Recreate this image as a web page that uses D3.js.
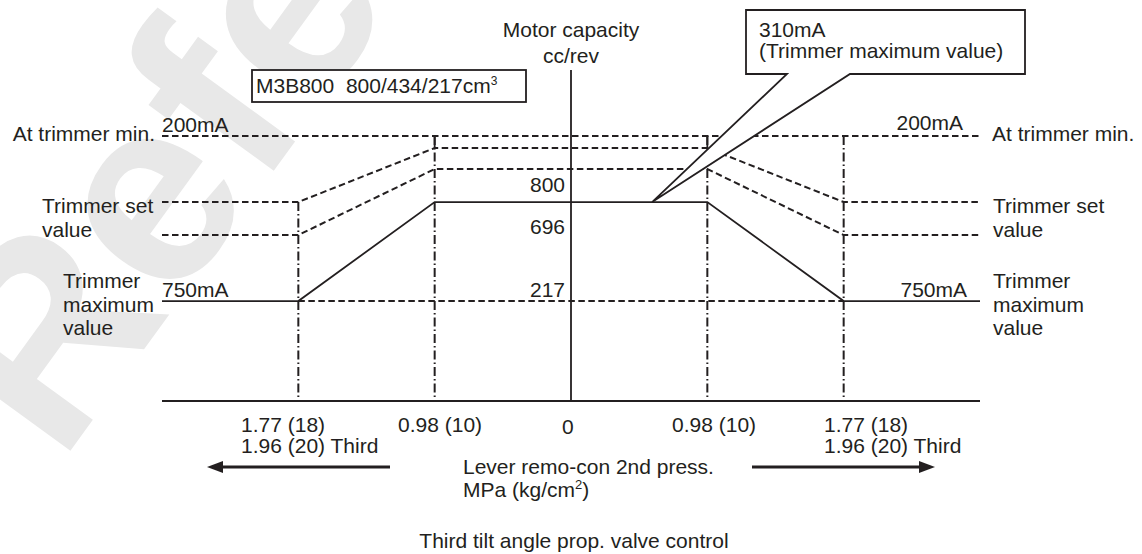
<!DOCTYPE html>
<html>
<head>
<meta charset="utf-8">
<script src="https://cdn.jsdelivr.net/npm/d3@7"></script>
<style>
  html, body { margin: 0; padding: 0; background: #fff; }
  svg text { font-family: "Liberation Sans", Arial, sans-serif; font-size: 21px; fill: #231f20; white-space: pre; }
</style>
</head>
<body>
<div id="vis"></div>
<script>
/* Third tilt angle proportional valve control - current vs lever remo-con pressure */

// lever steps along the horizontal axis (left side is mirrored)
var steps = [-3, -2, -1, 0, 1, 2, 3];
var stepLabels = ['1.77 (18)|1.96 (20) Third', '0.98 (10)', '0', '0.98 (10)', '1.77 (18)|1.96 (20) Third'];
var stepLabelAt = [-2, -1, 0, 1, 2];

// current levels (mA) of each curve at the steps -3 .. 3
var atTrimmerMin = [200, 200, 200, 200, 200, 200, 200];
var trimmerSetHigh = [420, 420, 240, 240, 240, 420, 420];
var trimmerSetLow = [530, 530, 310, 310, 310, 530, 530];
var trimmerMax = [750, 750, 420, 420, 420, 750, 750];

// motor capacity labels on the centre axis
var capacityLabels = ['800', '696', '217'];
var capacityLevels = [420, 530, 750];

// where each dash-dot guide starts (mA) at steps -2, -1, 1, 2
var guideSteps = [-2, -1, 1, 2];
var guideTop = [420, 200, 200, 200];

var width = 1142;
var height = 554;

var svg = d3.select('#vis')
    .append('svg')
    .attr('width', width)
    .attr('height', height);

// Scales
var xScale = d3.scaleLinear()
    .domain([-3, 3])
    .range([162, 980]);

var yScale = d3.scaleLinear()
    .domain([0, 1083])
    .range([76, 401]);

var ink = '#231f20';

/************ watermark ************/
svg.append('text')
    .attr('transform', 'translate(60,465) rotate(-54)')
    .style('font-size', '265px')
    .style('font-weight', 'bold')
    .style('fill', '#e8e8e8')
    .text('Reference');

/************ axes ************/
// horizontal baseline
svg.append('line')
    .attr('x1', xScale(-3)).attr('x2', xScale(3))
    .attr('y1', yScale(1083)).attr('y2', yScale(1083))
    .attr('stroke', ink).attr('stroke-width', 1.8);

// motor capacity axis
svg.append('line')
    .attr('x1', xScale(0)).attr('x2', xScale(0))
    .attr('y1', 70).attr('y2', yScale(1083))
    .attr('stroke', ink).attr('stroke-width', 1.8);

// dash-dot guides
guideSteps.forEach(function(s, i) {
    svg.append('line')
        .attr('x1', xScale(s)).attr('x2', xScale(s))
        .attr('y1', yScale(guideTop[i])).attr('y2', yScale(1083))
        .attr('stroke', ink).attr('stroke-width', 2)
        .attr('stroke-dasharray', '9,3,1.5,3');
});

/************ curves ************/
var line = d3.line()
    .x(function(d) { return xScale(d[0]); })
    .y(function(d) { return yScale(d[1]); });

function curve(values) {
    return steps.map(function(s, i) { return [s, values[i]]; });
}

svg.append('path')
    .attr('d', line(curve(atTrimmerMin)))
    .attr('fill', 'none').attr('stroke', ink).attr('stroke-width', 2)
    .attr('stroke-dasharray', '6.5,3.5');

// trimmer set value curves (dashed)
[trimmerSetHigh, trimmerSetLow].forEach(function(v) {
    svg.append('path')
        .attr('d', line(curve(v).filter(function(d) { return d[0] !== 0; })))
        .attr('fill', 'none').attr('stroke', ink).attr('stroke-width', 2)
        .attr('stroke-dasharray', '6.5,3.5');
});

// dashed 750mA line between the outer guides
svg.append('path')
    .attr('d', line([[-2, 750], [2, 750]]))
    .attr('fill', 'none').attr('stroke', ink).attr('stroke-width', 2)
    .attr('stroke-dasharray', '6.5,3.5');

// trimmer maximum (solid)
svg.append('path')
    .attr('d', line(curve(trimmerMax)))
    .attr('fill', 'none').attr('stroke', ink).attr('stroke-width', 1.8);

// small corner ticks at the tops of the inner guides
[-1, 1].forEach(function(s) {
    svg.append('line')
        .attr('x1', xScale(s)).attr('x2', xScale(s))
        .attr('y1', yScale(200)).attr('y2', yScale(240))
        .attr('stroke', ink).attr('stroke-width', 1.8);
});

/************ callout ************/
var tip = [xScale(0.595), yScale(420)];
svg.append('path')
    .attr('d', 'M746,10 H1025 V74 H850 L' + tip[0] + ',' + tip[1] + ' L787,74 H746 Z')
    .attr('fill', '#fff').attr('stroke', ink).attr('stroke-width', 1.8);
svg.append('text').attr('x', 759).attr('y', 37).text('310mA');
svg.append('text').attr('x', 759).attr('y', 58).text('(Trimmer maximum value)');

/************ model box ************/
svg.append('rect')
    .attr('x', 252).attr('y', 70).attr('width', 274).attr('height', 32)
    .attr('fill', '#fff').attr('stroke', ink).attr('stroke-width', 1.8);
var mt = svg.append('text').attr('x', 256).attr('y', 93);
mt.append('tspan').text('M3B800  800/434/217cm');
mt.append('tspan').attr('dy', -8).style('font-size', '12px').text('3');

/************ labels ************/
svg.append('text').attr('x', xScale(0)).attr('y', 37).attr('text-anchor', 'middle').text('Motor capacity');
svg.append('text').attr('x', xScale(0)).attr('y', 63).attr('text-anchor', 'middle').text('cc/rev');

var capOffsets = [-10, -1, -4];
capacityLabels.forEach(function(t, i) {
    svg.append('text')
        .attr('x', xScale(0) - 6)
        .attr('y', yScale(capacityLevels[i]) + capOffsets[i])
        .attr('text-anchor', 'end')
        .text(t);
});

// mA labels
svg.append('text').attr('x', xScale(-3)).attr('y', 132).text('200mA');
svg.append('text').attr('x', xScale(3) - 17).attr('y', 130).attr('text-anchor', 'end').text('200mA');
svg.append('text').attr('x', xScale(-3)).attr('y', 297).text('750mA');
svg.append('text').attr('x', xScale(3) - 13).attr('y', 297).attr('text-anchor', 'end').text('750mA');

// left side descriptions
svg.append('text').attr('x', 155).attr('y', 141).attr('text-anchor', 'end').text('At trimmer min.');
svg.append('text').attr('x', 42).attr('y', 213).text('Trimmer set');
svg.append('text').attr('x', 42).attr('y', 237).text('value');
svg.append('text').attr('x', 63).attr('y', 288).text('Trimmer');
svg.append('text').attr('x', 63).attr('y', 312).text('maximum');
svg.append('text').attr('x', 63).attr('y', 335).text('value');

// right side descriptions
svg.append('text').attr('x', 992).attr('y', 141).text('At trimmer min.');
svg.append('text').attr('x', 993).attr('y', 213).text('Trimmer set');
svg.append('text').attr('x', 993).attr('y', 237).text('value');
svg.append('text').attr('x', 993).attr('y', 288).text('Trimmer');
svg.append('text').attr('x', 993).attr('y', 312).text('maximum');
svg.append('text').attr('x', 993).attr('y', 335).text('value');

// step labels under the baseline
var labelX = [241, 398, 556, 672, 824];
stepLabels.forEach(function(t, i) {
    var parts = t.split('|');
    var x = i === 2 ? xScale(stepLabelAt[i]) - 9 : labelX[i];
    parts.forEach(function(p, j) {
        svg.append('text').attr('x', x).attr('y', 432 + (i === 2 ? 2 : 0) + j * 21).text(p);
    });
});

// direction arrows
function arrow(x1, x2, y) {
    var dir = x2 > x1 ? 1 : -1;
    svg.append('line')
        .attr('x1', x1).attr('x2', x2 - dir * 12)
        .attr('y1', y).attr('y2', y)
        .attr('stroke', ink).attr('stroke-width', 3);
    svg.append('path')
        .attr('d', 'M' + x2 + ',' + y + ' L' + (x2 - dir * 16) + ',' + (y - 6) + ' L' + (x2 - dir * 16) + ',' + (y + 6) + ' Z')
        .attr('fill', ink);
}
arrow(390, 207, 467);
arrow(752, 935, 467);

// axis titles
svg.append('text').attr('x', 463).attr('y', 474).text('Lever remo-con 2nd press.');
var mp = svg.append('text').attr('x', 463).attr('y', 497);
mp.append('tspan').text('MPa (kg/cm');
mp.append('tspan').attr('dy', -8).style('font-size', '13px').text('2');
mp.append('tspan').attr('dy', 8).text(')');

svg.append('text').attr('x', 574).attr('y', 548).attr('text-anchor', 'middle').text('Third tilt angle prop. valve control');
</script>
</body>
</html>
